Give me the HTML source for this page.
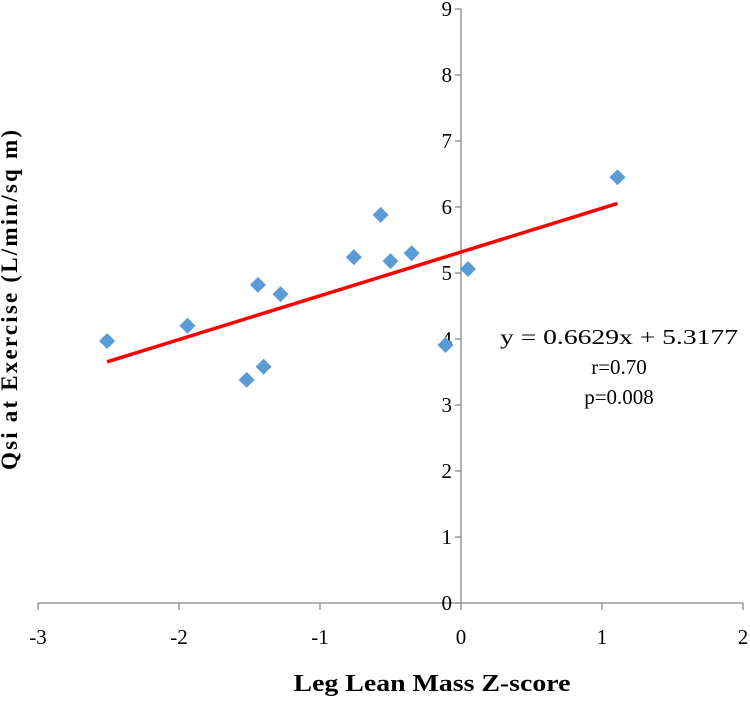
<!DOCTYPE html>
<html><head><meta charset="utf-8"><style>
body{margin:0;background:#fff}
svg text{font-family:"Liberation Serif",serif;fill:#000}
</style></head><body>
<svg width="750" height="697">
<g id="axes"></g><g id="marks"></g>
<text x="17" y="300" transform="rotate(-90 17 300)" text-anchor="middle" font-weight="bold" font-size="23" textLength="340" lengthAdjust="spacing">Qsi at Exercise (L/min/sq m)</text>
<text x="432" y="691" text-anchor="middle" font-weight="bold" font-size="24" textLength="277" lengthAdjust="spacingAndGlyphs">Leg Lean Mass Z-score</text>
<g font-size="21" text-anchor="middle">
<text x="619" y="344" textLength="238" lengthAdjust="spacingAndGlyphs">y = 0.6629x + 5.3177</text>
<text x="619" y="374">r=0.70</text>
<text x="619" y="404">p=0.008</text>
</g>
</svg>
<script>
const xVals=[-2.51,-1.94,-1.52,-1.44,-1.40,-1.28,-0.76,-0.57,-0.50,-0.35,-0.11,0.05,1.11];
const yVals=[3.97,4.20,3.38,4.82,3.58,4.68,5.24,5.88,5.18,5.30,3.91,5.06,6.45];
const xTicks=[-3,-2,-1,0,1,2];
const yTicks=[0,1,2,3,4,5,6,7,8,9];
const slope=0.6629, intercept=5.3177;
const NS="http://www.w3.org/2000/svg";
const X=v=>461+v*141, Y=v=>603-v*66;
function mk(t,a,p){const e=document.createElementNS(NS,t);for(const k in a)e.setAttribute(k,a[k]);p.appendChild(e);return e;}
const ax=document.getElementById('axes'), mg=document.getElementById('marks');
let l=mk('line',{x1:X(-3),x2:X(2),y1:Y(0),y2:Y(0),stroke:'#888','stroke-width':1.3},ax);


l=mk('line',{x1:X(0),x2:X(0),y1:Y(0),y2:Y(9),stroke:'#888','stroke-width':1.3},ax);


xTicks.forEach(t=>{
 mk('line',{x1:X(t),x2:X(t),y1:Y(0),y2:Y(0)+7,stroke:'#888','stroke-width':1.3},ax);
 const tx=mk('text',{x:X(t),y:Y(0)+41,'text-anchor':'middle','font-size':21},ax);tx.textContent=t;
 
 
});
yTicks.forEach(t=>{
 mk('line',{x1:X(0)-6,x2:X(0),y1:Y(t),y2:Y(t),stroke:'#888','stroke-width':1.3},ax);
 const tx=mk('text',{x:X(0)-9,y:Y(t)+7,'text-anchor':'end','font-size':21},ax);tx.textContent=t;
 
 
});
const x0=Math.min(...xVals), x1=Math.max(...xVals);
l=mk('line',{x1:X(x0),x2:X(x1),y1:Y(slope*x0+intercept),y2:Y(slope*x1+intercept),stroke:'#f00','stroke-width':3.5},mg);


xVals.forEach((v,i)=>{
 const cx=X(v), cy=Y(yVals[i]), s=8;
 const p=mk('polygon',{points:`${cx},${cy-s} ${cx+s},${cy} ${cx},${cy+s} ${cx-s},${cy}`,fill:'#5b9bd5'},mg);
 
 
});
</script>
</body></html>
